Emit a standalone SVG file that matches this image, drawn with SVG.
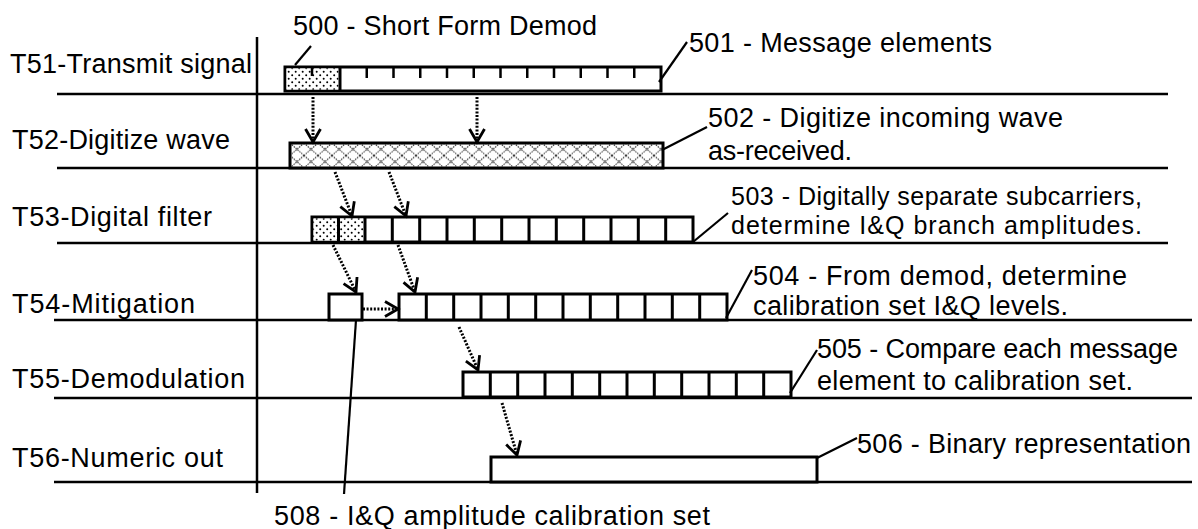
<svg xmlns="http://www.w3.org/2000/svg" width="1198" height="529" viewBox="0 0 1198 529">
<style>
text{font-family:"Liberation Sans",Arial,sans-serif;font-size:27px;fill:#000}
.sm{font-size:25px}
.row{stroke:#000;stroke-width:2.5;fill:none}
.box{stroke:#000;stroke-width:3;fill:#fff}
.div{stroke:#000;stroke-width:3;fill:none}
.tick{stroke:#000;stroke-width:2.5;fill:none}
.dot{stroke:#000;stroke-width:3;stroke-dasharray:2 1.6;fill:none;marker-end:url(#ah)}
.lead{stroke:#000;stroke-width:2.2;fill:none}
</style>
<defs>
<marker id="ah" markerUnits="userSpaceOnUse" markerWidth="18" markerHeight="20" refX="14" refY="9" orient="auto">
<path d="M1,1.5 L14,9 L1,16.5" fill="none" stroke="#000" stroke-width="2.8"/>
</marker>
<pattern id="stip" width="7" height="7" patternUnits="userSpaceOnUse">
<rect width="7" height="7" fill="#fff"/>
<circle cx="1.7" cy="1.7" r="1" fill="#000"/>
<circle cx="5.2" cy="5.2" r="1" fill="#000"/>
</pattern>
<pattern id="hatch" x="290" y="143" width="14" height="12.5" patternUnits="userSpaceOnUse">
<rect width="14" height="12.5" fill="#fff"/>
<path d="M0,0 L14,12.5 M14,0 L0,12.5" stroke="#333" stroke-width="1.1" stroke-dasharray="1.5 1"/>
</pattern>
</defs>

<g id="axes">
<line class="row" x1="257" y1="37" x2="257" y2="493"/>
<line class="row" x1="57" y1="94" x2="1168" y2="94"/>
<line class="row" x1="57" y1="168" x2="1168" y2="168"/>
<line class="row" x1="57" y1="243" x2="1168" y2="243"/>
<line class="row" x1="54" y1="320" x2="1192" y2="320"/>
<line class="row" x1="54" y1="398" x2="1192" y2="398"/>
<line class="row" x1="54" y1="482" x2="1192" y2="482"/>
</g>

<g id="row-labels">
<text x="10" y="73" textLength="242">T51-Transmit signal</text>
<text x="12" y="149" textLength="218">T52-Digitize wave</text>
<text x="12" y="226" textLength="200">T53-Digital filter</text>
<text x="12" y="313" textLength="183">T54-Mitigation</text>
<text x="12" y="388" textLength="233">T55-Demodulation</text>
<text x="12" y="467" textLength="211">T56-Numeric out</text>
</g>

<g id="t51-bar">
<rect class="box" x="285" y="67" width="376" height="24"/>
<rect x="286.5" y="68.5" width="52" height="21" fill="url(#stip)"/>
<line class="div" x1="340" y1="67" x2="340" y2="91"/>
<path class="tick" d="M312,67V76 M366.75,67V78 M393.5,67V78 M420.25,67V78 M447,67V78 M473.75,67V78 M500.5,67V78 M527.25,67V78 M554,67V78 M580.75,67V78 M607.5,67V78 M634.25,67V78"/>
</g>

<g id="t52-bar">
<rect class="box" x="290" y="143" width="373" height="25" style="fill:url(#hatch)"/>
</g>

<g id="t53-bar">
<rect class="box" x="312" y="217" width="381" height="25"/>
<rect x="313.5" y="218.5" width="50" height="22" fill="url(#stip)"/>
<path class="div" d="M338.5,217V242 M365,217V242 M392.3,217V242 M419.7,217V242 M447,217V242 M474.3,217V242 M501.7,217V242 M529,217V242 M556.3,217V242 M583.7,217V242 M611,217V242 M638.3,217V242 M665.7,217V242"/>
</g>

<g id="t54-calib">
<rect class="box" x="329" y="294" width="33" height="26"/>
</g>

<g id="t54-bar">
<rect class="box" x="399" y="294" width="328" height="26"/>
<path class="div" d="M426.3,294V320 M453.7,294V320 M481,294V320 M508.3,294V320 M535.7,294V320 M563,294V320 M590.3,294V320 M617.7,294V320 M645,294V320 M672.3,294V320 M699.7,294V320"/>
</g>

<g id="t55-bar">
<rect class="box" x="463" y="372" width="328" height="25"/>
<path class="div" d="M490.3,372V397 M517.7,372V397 M545,372V397 M572.3,372V397 M599.7,372V397 M627,372V397 M654.3,372V397 M681.7,372V397 M709,372V397 M736.3,372V397 M763.7,372V397"/>
</g>

<g id="t56-bar">
<rect class="box" x="491" y="457" width="326" height="25"/>
</g>

<g id="callouts">
<text x="293" y="35" textLength="304">500 - Short Form Demod</text>
<text x="689" y="52" textLength="303">501 - Message elements</text>
<text x="708" y="127" textLength="355">502 - Digitize incoming wave</text>
<text x="708" y="160" textLength="144">as-received.</text>
<text class="sm" x="731" y="205" textLength="411">503 - Digitally separate subcarriers,</text>
<text class="sm" x="731" y="234" textLength="411">determine I&amp;Q branch amplitudes.</text>
<text x="753" y="285" textLength="374">504 - From demod, determine</text>
<text x="753" y="315" textLength="315">calibration set I&amp;Q levels.</text>
<text x="817" y="358" textLength="361">505 - Compare each message</text>
<text x="817" y="390" textLength="316">element to calibration set.</text>
<text x="857" y="453" textLength="334">506 - Binary representation</text>
<text x="274" y="525" textLength="436">508 - I&amp;Q amplitude calibration set</text>
</g>

<g id="connectors">
<line class="dot" x1="313" y1="97" x2="313" y2="142"/>
<line class="dot" x1="477" y1="97" x2="477" y2="142"/>
<line class="dot" x1="335" y1="172" x2="352" y2="216"/>
<line class="dot" x1="389" y1="172" x2="406" y2="216"/>
<line class="dot" x1="333" y1="245" x2="356" y2="292"/>
<line class="dot" x1="398" y1="245" x2="415" y2="292"/>
<line class="dot" x1="363" y1="309" x2="398" y2="309"/>
<line class="dot" x1="459" y1="327" x2="478" y2="370"/>
<line class="dot" x1="502" y1="403" x2="517" y2="455"/>
<line class="lead" x1="295" y1="65" x2="311" y2="46"/>
<line class="lead" x1="659" y1="82" x2="687" y2="42"/>
<line class="lead" x1="662" y1="150" x2="707" y2="127"/>
<line class="lead" x1="693" y1="242" x2="728" y2="213"/>
<line class="lead" x1="726" y1="318" x2="752" y2="270"/>
<line class="lead" x1="790" y1="393" x2="817" y2="350"/>
<line class="lead" x1="817" y1="458" x2="857" y2="438"/>
<line class="lead" x1="356" y1="320" x2="344" y2="494"/>
</g>
</svg>
